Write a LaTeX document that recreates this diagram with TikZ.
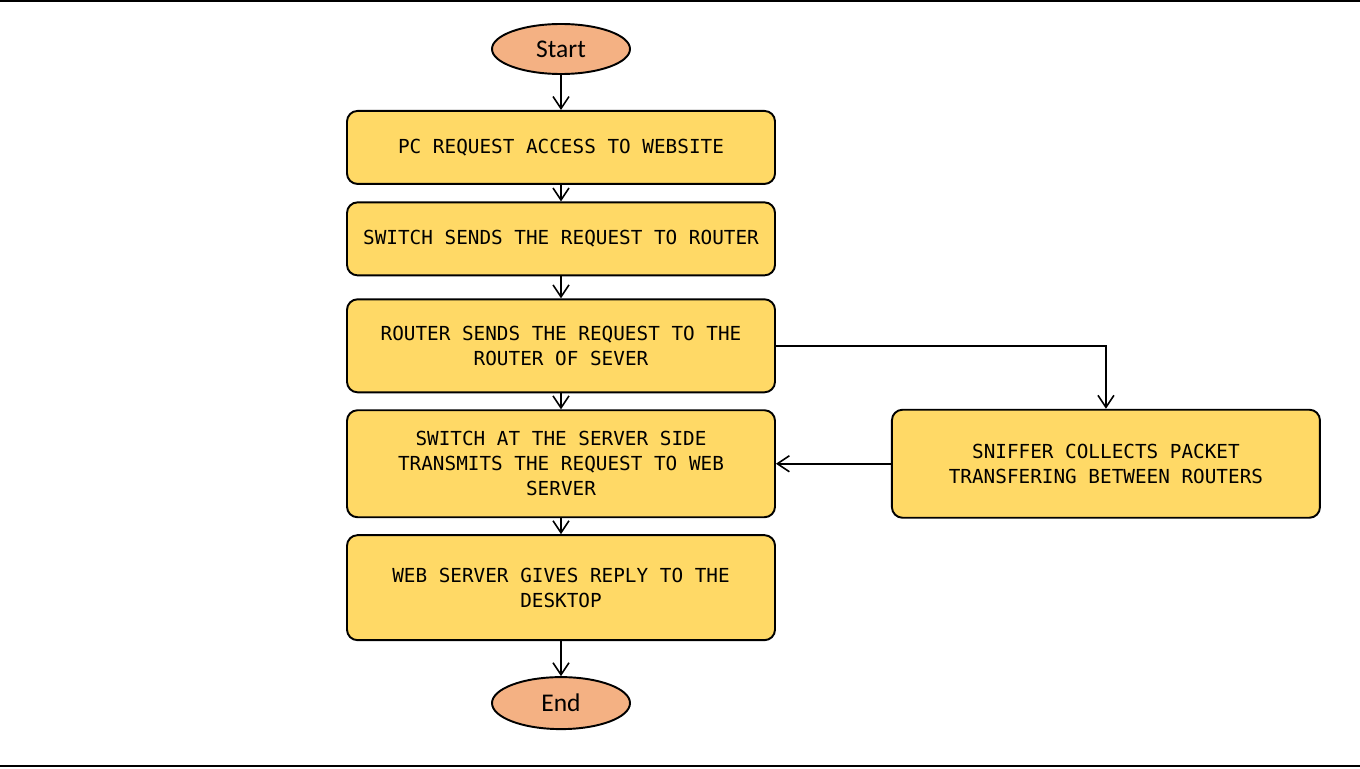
\documentclass[tikz,border=0pt]{standalone}
\usepackage{fontspec}
\usepackage{tikz}
\usepackage{xcolor}
\usetikzlibrary{arrows.meta,positioning,shapes.geometric}
\newfontfamily\boxfont{DejaVu Sans Mono}
\newfontfamily\termfont{Carlito}
\definecolor{Peach}{HTML}{F4B183}
\definecolor{Sand}{HTML}{FFD966}
\begin{document}
\begin{tikzpicture}[
  node distance=0.37cm,
  term/.style={ellipse,draw=black,fill=Peach,line width=1.1pt,minimum width=2.76cm,minimum height=1.0cm,inner sep=0pt,font=\termfont\fontsize{14.5}{16}\selectfont},
  stepbox/.style={rounded corners=6pt,draw=black,fill=Sand,line width=1.1pt,minimum width=8.56cm,align=center,font=\boxfont\fontsize{11}{14.2}\selectfont},
  arrow/.style={-{Straight Barb[length=2.4mm,width=3.2mm]},line width=0.9pt,draw=black},
  rule/.style={line width=1.2pt,draw=black}
]
\useasboundingbox (0,0) rectangle (27.2,-15.36);
\draw[rule] (0,-0.02) -- (27.2,-0.02);
\draw[rule] (0,-15.32) -- (27.2,-15.32);
\node[term] (start) at (11.22,-0.98) {Start};
\node[stepbox,minimum height=1.46cm,below=0.70cm of start] (pc) {PC REQUEST ACCESS TO WEBSITE};
\node[stepbox,minimum height=1.46cm,below=0.33cm of pc] (sw) {SWITCH SENDS THE REQUEST TO ROUTER};
\node[stepbox,minimum height=1.86cm,below=0.44cm of sw] (rt) {ROUTER SENDS THE REQUEST TO THE\\ROUTER OF SEVER};
\node[stepbox,minimum height=2.14cm,below=0.32cm of rt] (srv) {SWITCH AT THE SERVER SIDE\\TRANSMITS THE REQUEST TO WEB\\SERVER};
\node[stepbox,minimum height=2.10cm,below=0.32cm of srv] (web) {WEB SERVER GIVES REPLY TO THE\\DESKTOP};
\node[term,minimum height=1.04cm,below=0.70cm of web] (end) {End};
\node[stepbox,minimum height=2.16cm,right=2.30cm of srv] (sniff) {SNIFFER COLLECTS PACKET\\TRANSFERING BETWEEN ROUTERS};
\draw[arrow] (start) -- (pc);
\draw[arrow] (pc) -- (sw);
\draw[arrow] (sw) -- (rt);
\draw[arrow] (rt) -- (srv);
\draw[arrow] (srv) -- (web);
\draw[arrow] (web) -- (end);
\draw[arrow] (rt.east) -| (sniff.north);
\draw[arrow] (sniff.west) -- (srv.east);
\end{tikzpicture}
\end{document}
